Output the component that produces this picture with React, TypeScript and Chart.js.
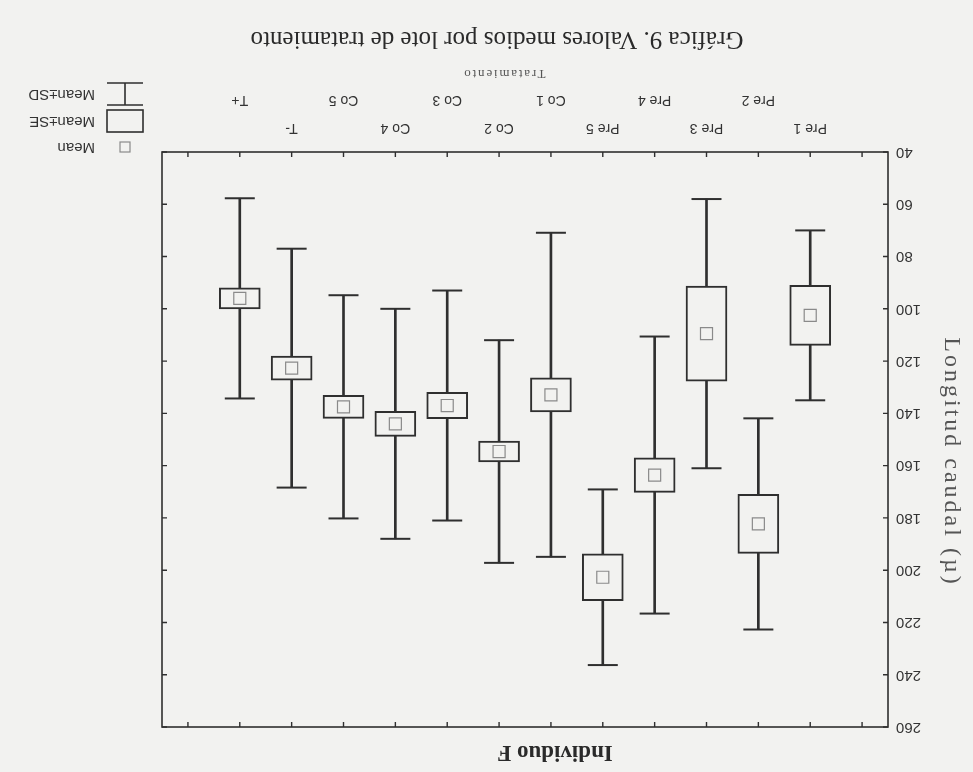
import React, { useEffect, useRef } from 'react';
import { Chart, registerables } from 'chart.js';

Chart.register(...registerables);

// ---- data (read from the scanned, 180°-rotated reference) ----
const categories = ['Pre 1', 'Pre 2', 'Pre 3', 'Pre 4', 'Pre 5', 'Co 1', 'Co 2', 'Co 3', 'Co 4', 'Co 5', 'T-', 'T+'];
const means = [102.5, 182.3, 109.5, 163.6, 202.7, 132.9, 154.6, 137.0, 144.0, 137.5, 122.7, 96.0];
const stdErrors = [11.5, 11.3, 18.2, 6.6, 9.0, 6.5, 4.0, 5.0, 4.8, 4.4, 4.6, 4.0];
const stdDevs = [32.5, 40.4, 51.5, 53.0, 33.6, 62.0, 42.6, 44.0, 44.0, 42.7, 45.7, 38.3];
const yMin = 40;
const yMax = 260;
const yStep = 20;
const xTickPositions = [0, 1, 2, 3, 4, 5, 6, 7, 8, 9, 10, 11, 12, 13];

const chartTitle = 'Gráfica 9. Valores medios por lote de tratamiento';
const panelTitle = 'Individuo F';
const xTitle = 'Tratamiento';
const yTitle = 'Longitud caudal (µ)';
const legendLabels = ['Mean', 'Mean±SE', 'Mean±SD'];

const INK = '#2f2f2f';
const BG = '#f2f2f0';
const MEAN_COLOR = '#8a8a8a';
const SANS = '"Liberation Sans", Arial, sans-serif';
const SERIF = '"Liberation Serif", "Times New Roman", serif';

const W = 973;
const H = 772;

const decor = {
  id: 'decor',
  beforeDraw(chart: any) {
    const { ctx } = chart;
    ctx.save();
    ctx.fillStyle = BG;
    ctx.fillRect(0, 0, chart.width, chart.height);
    ctx.restore();
  },
  afterDraw(chart: any) {
    const { ctx, chartArea: a, scales } = chart;
    ctx.save();
    ctx.strokeStyle = INK;
    ctx.lineWidth = 1.6;
    ctx.strokeRect(a.left, a.top, a.right - a.left, a.bottom - a.top);
    const L = 5;
    ctx.lineWidth = 1.4;
    ctx.beginPath();
    scales.x.ticks.forEach((t: any) => {
      const px = scales.x.getPixelForValue(t.value);
      ctx.moveTo(px, a.bottom);
      ctx.lineTo(px, a.bottom - L);
      ctx.moveTo(px, a.top);
      ctx.lineTo(px, a.top + L);
    });
    scales.y.ticks.forEach((t: any) => {
      const py = scales.y.getPixelForValue(t.value);
      ctx.moveTo(a.left, py);
      ctx.lineTo(a.left + L, py);
      ctx.moveTo(a.right, py);
      ctx.lineTo(a.right - L, py);
    });
    ctx.stroke();

    // titles
    ctx.fillStyle = '#2a2a2a';
    ctx.textAlign = 'center';
    ctx.textBaseline = 'middle';
    ctx.font = `bold 23px ${SERIF}`;
    ctx.fillText(panelTitle, 418, 20);
    ctx.save();
    ctx.font = `13px ${SERIF}`;
    ctx.fillStyle = '#555';
    (ctx as any).letterSpacing = '1.8px';
    ctx.fillText(xTitle, 469, 699);
    ctx.restore();
    ctx.font = `25px ${SERIF}`;
    ctx.fillText(chartTitle, 476, 733);
    ctx.save();
    ctx.translate(22, 310);
    ctx.rotate(-Math.PI / 2);
    ctx.font = `24px ${SERIF}`;
    ctx.fillStyle = '#555';
    (ctx as any).letterSpacing = '3px';
    ctx.fillText(yTitle, 0, 0);
    ctx.restore();

    // legend
    const sx0 = 830;
    const sx1 = 866;
    const sxc = (sx0 + sx1) / 2;
    ctx.strokeStyle = MEAN_COLOR;
    ctx.lineWidth = 1.2;
    ctx.strokeRect(sxc - 5, 625 - 5, 10, 10);
    ctx.strokeStyle = INK;
    ctx.lineWidth = 1.6;
    ctx.strokeRect(sx0, 640, sx1 - sx0, 22);
    ctx.beginPath();
    ctx.moveTo(sx0, 667);
    ctx.lineTo(sx1, 667);
    ctx.moveTo(sx0, 689);
    ctx.lineTo(sx1, 689);
    ctx.moveTo(sxc, 667);
    ctx.lineTo(sxc, 689);
    ctx.stroke();
    ctx.fillStyle = '#333';
    ctx.textAlign = 'left';
    ctx.font = `15px ${SANS}`;
    ctx.fillText(legendLabels[0], 878, 625);
    ctx.fillText(legendLabels[1], 878, 651);
    ctx.fillText(legendLabels[2], 878, 678);
    ctx.restore();
  },
};

export default function App() {
  const ref = useRef<HTMLCanvasElement>(null);

  useEffect(() => {
    const canvas = ref.current;
    if (!canvas) return;
    const pos = categories.map((_, i) => i + 1);
    const sdRange = pos.map((x, i) => ({ x, y: [means[i] - stdDevs[i], means[i] + stdDevs[i]] }));
    const seRange = pos.map((x, i) => ({ x, y: [means[i] - stdErrors[i], means[i] + stdErrors[i]] }));
    const caps = pos.flatMap((x, i) => [
      { x, y: means[i] - stdDevs[i] },
      { x, y: means[i] + stdDevs[i] },
    ]);
    const meanPts = pos.map((x, i) => ({ x, y: means[i] }));

    const chart = new Chart(canvas, {
      type: 'bar',
      data: {
        datasets: [
          {
            type: 'bar',
            label: 'Mean±SD',
            data: sdRange as any,
            backgroundColor: INK,
            borderWidth: 0,
            barThickness: 2,
            grouped: false,
            order: 3,
          },
          {
            type: 'bar',
            label: 'Mean±SE',
            data: seRange as any,
            backgroundColor: BG,
            borderColor: INK,
            borderWidth: 2,
            borderSkipped: false,
            barThickness: 41,
            grouped: false,
            order: 2,
          },
          {
            type: 'scatter',
            label: 'SD caps',
            data: caps,
            pointStyle: 'line',
            pointRadius: 15,
            borderColor: INK,
            borderWidth: 2,
            order: 1,
          },
          {
            type: 'scatter',
            label: 'Mean',
            data: meanPts,
            pointStyle: 'rect',
            pointRadius: 8.5,
            borderColor: MEAN_COLOR,
            backgroundColor: 'rgba(0,0,0,0)',
            borderWidth: 1.2,
            order: 0,
          },
        ] as any,
      },
      options: {
        responsive: false,
        animation: false,
        events: [],
        layout: { padding: { left: 0, right: 162, top: 45, bottom: 82 } },
        plugins: {
          legend: { display: false },
          title: { display: false },
          tooltip: { enabled: false },
        },
        scales: {
          x: {
            type: 'linear',
            min: -0.5,
            max: 13.5,
            offset: false,
            grid: { display: false, drawTicks: false },
            border: { display: false },
            afterBuildTicks: (s: any) => {
              s.ticks = xTickPositions.map((v) => ({ value: v }));
            },
            afterFit: (s: any) => {
              s.height = 70;
            },
            ticks: {
              autoSkip: false,
              maxRotation: 0,
              minRotation: 0,
              padding: 10,
              color: '#333',
              font: { family: SANS, size: 14, lineHeight: 2 },
              callback: (v: any) => {
                const n = Math.round(Number(v));
                if (n < 1 || n > categories.length) return '';
                const name = categories[n - 1];
                return n % 2 === 0 ? ['', name] : name;
              },
            },
          },
          y: {
            type: 'linear',
            min: yMin,
            max: yMax,
            grid: { display: false, drawTicks: false },
            border: { display: false },
            afterFit: (s: any) => {
              s.width = 85;
            },
            ticks: {
              stepSize: yStep,
              padding: 8,
              color: '#333',
              font: { family: SANS, size: 15 },
            },
          },
        },
      } as any,
      plugins: [decor],
    });
    return () => chart.destroy();
  }, []);

  return (
    <div
      style={{
        position: 'fixed',
        left: 0,
        top: 0,
        width: W,
        height: H,
        background: BG,
        transform: 'rotate(180deg)',
      }}
    >
      <canvas ref={ref} width={W} height={H} style={{ display: 'block', width: W, height: H }} />
    </div>
  );
}
